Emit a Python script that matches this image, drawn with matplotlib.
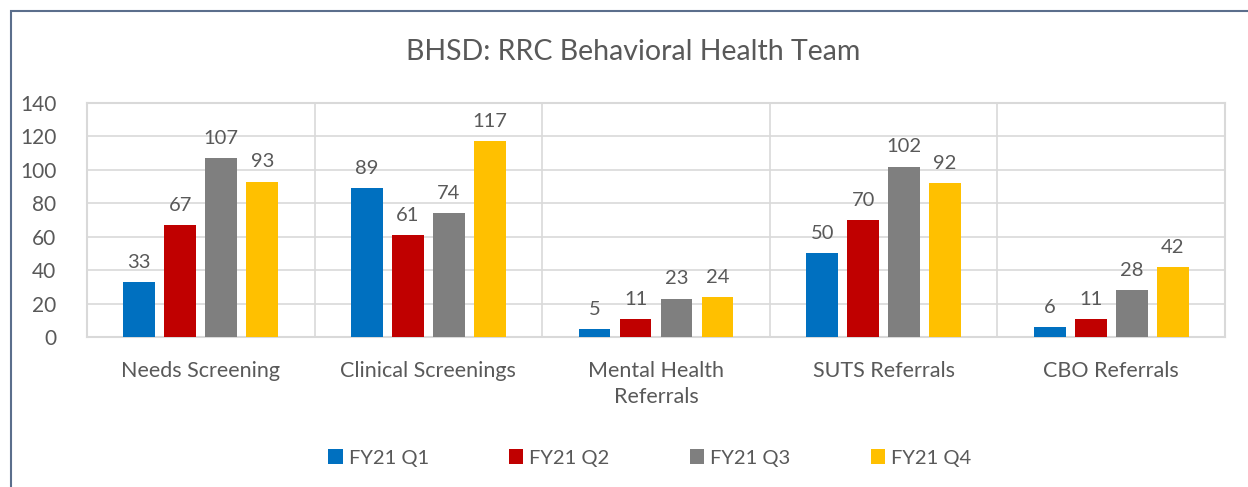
import numpy as np
import matplotlib.pyplot as plt
from matplotlib.patches import Rectangle

categories = ['Needs Screening', 'Clinical Screenings', 'Mental Health\nReferrals',
              'SUTS Referrals', 'CBO Referrals']
series = ['FY21 Q1', 'FY21 Q2', 'FY21 Q3', 'FY21 Q4']
q1 = [33, 89, 5, 50, 6]
q2 = [67, 61, 11, 70, 11]
q3 = [107, 74, 23, 102, 28]
q4 = [93, 117, 24, 92, 42]
colors = ['#0070c0', '#c00000', '#7f7f7f', '#ffc000']

plt.rcParams['font.family'] = ['Lato', 'DejaVu Sans']
txt = '#595959'
grid = '#d9d9d9'

fig = plt.figure(figsize=(12.48, 4.87), dpi=100)
ax = fig.add_axes([87 / 1248, 1 - 337 / 487, 1138 / 1248, 234 / 487])

# outer border (left and top visible)
fig.add_artist(Rectangle((11 / 1248, -0.1), 1.2, 1 - 11 / 487 + 0.1,
                         transform=fig.transFigure, fill=False,
                         edgecolor='#5b6e8c', linewidth=1.5))

x = np.arange(len(categories))
width = 0.14
step = 0.18
for i, (name, vals) in enumerate(zip(series, [q1, q2, q3, q4])):
    pos = x + (i - 1.5) * step
    bars = ax.bar(pos, vals, width, color=colors[i], label=name, zorder=3)
    ax.bar_label(bars, padding=8, fontsize=14.5, color=txt)

ax.set_xlim(-0.5, len(categories) - 0.5)
ax.set_ylim(0, 140)
ax.set_yticks(range(0, 141, 20))
ax.set_xticks(x)
ax.set_xticklabels(categories, fontsize=15.5, color=txt, linespacing=1.4)
ax.tick_params(axis='y', labelsize=15, colors=txt, length=0, pad=22)
ax.tick_params(axis='x', length=0, pad=17)
ax.yaxis.grid(True, color=grid, linewidth=1.2, zorder=0)
for b in np.arange(0.5, len(categories) - 0.5, 1):
    ax.axvline(b, color=grid, linewidth=1.2, zorder=0)
for s in ax.spines.values():
    s.set_color(grid)
    s.set_linewidth(1.5)

fig.text(633 / 1248, 1 - 52 / 487, 'BHSD: RRC Behavioral Health Team',
         ha='center', va='center', fontsize=20.5, color=txt)

fig.legend(loc='center', bbox_to_anchor=(650 / 1248, 1 - 458 / 487), ncol=4,
           frameon=False, fontsize=14.5, labelcolor=txt, handlelength=0.7,
           handleheight=0.7, handletextpad=0.3, columnspacing=4.0)

fig.savefig('out.png', dpi=100)
